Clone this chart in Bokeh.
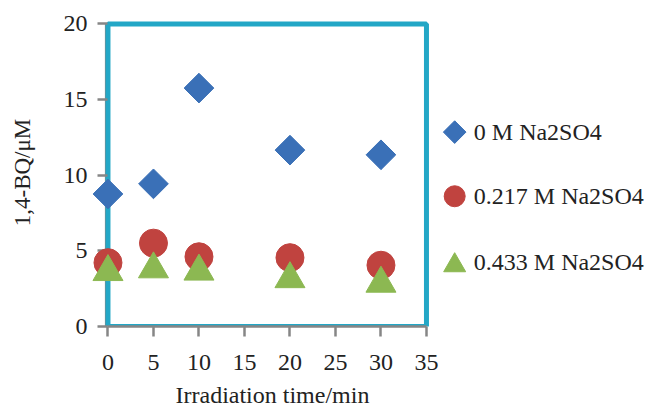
from bokeh.plotting import figure
from bokeh.models import FixedTicker, Range1d, BoxAnnotation, ColumnDataSource, Title
from bokeh.transform import dodge
from bokeh.core.properties import value
from bokeh.embed import file_html
from bokeh.resources import INLINE
import math

time_min = [0, 5, 10, 20, 30]
bq_0M = [8.76, 9.43, 15.76, 11.66, 11.35]
bq_0217M = [4.22, 5.51, 4.61, 4.55, 4.05]
bq_0433M = [3.89, 4.07, 3.92, 3.42, 3.12]
series_names = ["0 M Na2SO4", "0.217 M Na2SO4", "0.433 M Na2SO4"]
x_ticks = [0, 5, 10, 15, 20, 25, 30, 35]
y_ticks = [0, 5, 10, 15, 20]

# legend layout (positions in plot coordinates, right of the plot area)
LEG_MARK_X = 38.1
LEG_TEXT_X = 40.2
LEG_Y = [12.85, 8.61, 4.25]

FONT = "Liberation Serif"
BLUE = "#3A70B7"
RED = "#C0433F"
GREEN = "#8CB852"
CYAN = "#23A7C6"
GRAY = "#868686"
TXT = "#222222"

src = ColumnDataSource(dict(t=time_min, a=bq_0M, b=bq_0217M, c=bq_0433M))

p = figure(frame_width=554, frame_height=308, output_backend="svg", toolbar_location=None,
           x_range=Range1d(-1.81, 59.07), y_range=Range1d(0, 20.36),
           min_border_left=91, min_border_top=18, min_border_bottom=80, min_border_right=0)
p.xgrid.visible = False
p.ygrid.visible = False
p.outline_line_color = None

yline = BoxAnnotation(left=-0.2, right=-0.2, bottom=0, top=20, fill_alpha=0, fill_color=None,
                      line_color=GRAY, line_alpha=1, line_width=2.5, level="underlay")
box = BoxAnnotation(left=0, right=35, bottom=0, top=20, fill_alpha=0, fill_color=None,
                    line_color=CYAN, line_alpha=1, line_width=5, level="underlay")
p.add_layout(yline)
p.add_layout(box)

for ax in (p.xaxis[0], p.yaxis[0]):
    ax.axis_line_color = GRAY
    ax.axis_line_width = 2.5
    ax.major_tick_line_color = GRAY
    ax.major_tick_line_width = 2.5
    ax.minor_tick_line_color = None
    ax.minor_tick_out = 0
    ax.minor_tick_in = 0
    ax.major_label_text_font = FONT
    ax.major_label_text_font_size = "24px"
    ax.major_label_text_color = TXT
    ax.axis_label_text_font = FONT
    ax.axis_label_text_font_size = "23px"
    ax.axis_label_text_font_style = "normal"
    ax.axis_label_text_color = TXT

p.xaxis.ticker = FixedTicker(ticks=x_ticks)
p.yaxis.ticker = FixedTicker(ticks=y_ticks)
p.xaxis.bounds = (0, 35)
p.yaxis.bounds = (0, 20)
p.xaxis.major_tick_out = 10
p.xaxis.major_tick_in = 0
# y ticks sit at x = 0, a little right of the frame edge
p.yaxis.axis_line_color = None
p.yaxis.major_tick_out = -6
p.yaxis.major_tick_in = 16
p.yaxis.axis_label = "1,4-BQ/μM"
p.xaxis.major_label_standoff = 18
p.yaxis.major_label_standoff = 4
p.yaxis.axis_label_standoff = 26

xt = Title(text="Irradiation time/min", align="left", offset=84, standoff=15,
           text_font=FONT, text_font_size="24px", text_font_style="normal", text_color=TXT)
p.add_layout(xt, "below")

p.scatter("t", "a", source=src, marker="square", size=21, angle=math.pi / 4,
          fill_color=BLUE, line_color=BLUE, level="overlay")
p.scatter("t", "b", source=src, marker="circle", size=28,
          fill_color=RED, line_color=RED, level="overlay")
p.scatter("t", dodge("c", -0.28, range=p.y_range), source=src, marker="triangle", size=30,
          fill_color=GREEN, line_color=GREEN, level="overlay")

# legend
p.scatter([LEG_MARK_X], [LEG_Y[0]], marker="square", size=16, angle=math.pi / 4,
          fill_color=BLUE, line_color=BLUE)
p.scatter([LEG_MARK_X], [LEG_Y[1]], marker="circle", size=21,
          fill_color=RED, line_color=RED)
p.scatter([LEG_MARK_X], [LEG_Y[2] - 0.21], marker="triangle", size=22,
          fill_color=GREEN, line_color=GREEN)
lsrc = ColumnDataSource(dict(x=[LEG_TEXT_X] * 3, y=LEG_Y, name=series_names))
p.text(x="x", y="y", text="name", source=lsrc, text_font=value(FONT),
       text_font_size="24px", text_color=TXT, text_baseline="middle", text_align="left")

open("out.html", "w").write(file_html(p, INLINE))
